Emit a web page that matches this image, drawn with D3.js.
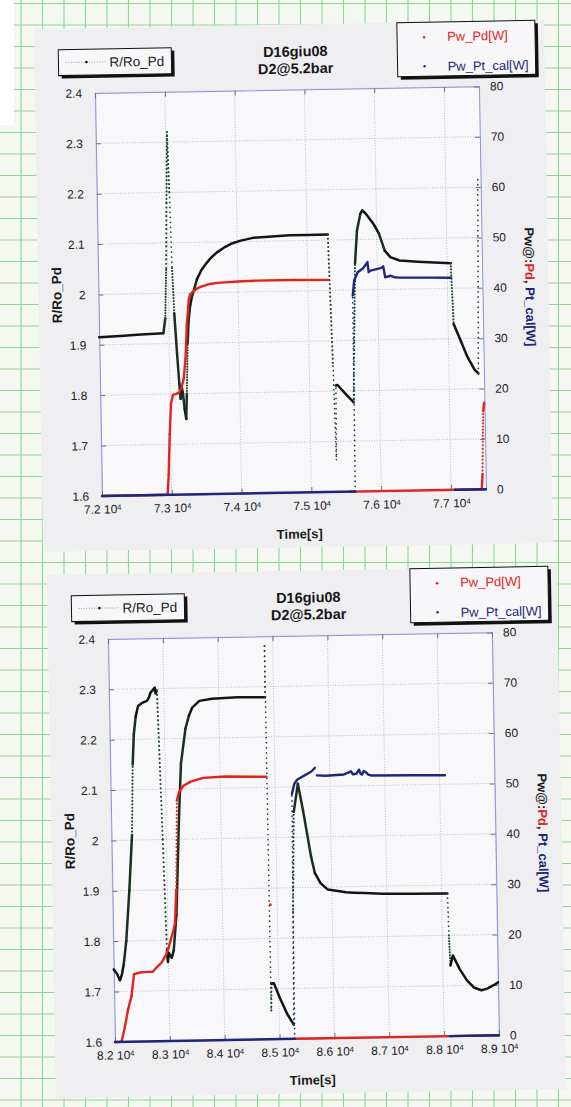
<!DOCTYPE html>
<html>
<head>
<meta charset="utf-8">
<script src="https://cdn.jsdelivr.net/npm/d3@7"></script>
<style>
  html, body { margin: 0; padding: 0; background: #f4f8f1; }
  svg { display: block; }
  text { font-family: "Liberation Sans", Arial, Helvetica, sans-serif; }
</style>
</head>
<body>
<svg id="sheet" width="571" height="1107"></svg>
<script>
// ---------------- data ----------------
const titleLines = ["D16giu08", "D2@5.2bar"];
const ratioTicks = [1.6, 1.7, 1.8, 1.9, 2.0, 2.1, 2.2, 2.3, 2.4];
const powerTicks = [0, 10, 20, 30, 40, 50, 60, 70, 80];

// first run (upper panel)
const runATimeTicks = [72000, 73000, 74000, 75000, 76000, 77000];
const runATimeDomain = [72000, 77500];
const runARatio = [
  [72000,1.915],[72300,1.917],[72600,1.919],[72920,1.921],
  [72950,1.95],[72975,2.05],[72995,2.18],[73020,2.32],
  [73040,2.2],[73060,2.05],[73080,1.96],[73110,1.88],[73135,1.82],[73150,1.79],
  [73165,1.815],[73185,1.80],[73205,1.77],[73225,1.75],[73240,1.80],
  [73265,1.90],[73283,1.944],[73310,1.975],[73335,1.991],[73414,2.027],[73480,2.045],
  [73545,2.057],[73620,2.069],[73702,2.079],[73800,2.088],[73911,2.096],[74050,2.102],
  [74225,2.107],[74500,2.109],[74749,2.111],[75000,2.111],[75298,2.111],
  [75340,1.85],[75366,1.664],[75377,1.811],[75400,1.812],[75500,1.796],[75628,1.777],
  [75650,1.9],[75681,2.052],[75717,2.118],[75770,2.151],[75796,2.158],[75848,2.151],
  [75953,2.131],[76031,2.111],[76110,2.077],[76188,2.064],[76319,2.057],[76581,2.054],
  [77052,2.05],[77078,1.929],[77157,1.902],[77262,1.865],[77366,1.838],[77420,1.83],
  [77460,2.22]
];
const runAPd = [
  [72000,0],[72940,0],[72960,4],[72985,12],[73010,18],[73040,19.8],[73090,20],
  [73130,20.3],[73160,21],[73200,23],[73230,27],[73257,33.7],[73290,38.5],[73309,39.7],
  [73361,40.3],[73420,40.9],[73492,41.3],[73600,41.7],[73702,41.9],[74000,42.1],
  [74225,42.2],[74800,42.2],[75298,42.1],[75300,null],
  [75560,0],[77440,0],[77455,3],[77468,10],[77480,15.5],[77495,17.2]
];
const runAPtCal = [
  [72000,0],[75628,0],[75640,38.9],[75665,41.9],[75717,43.5],[75796,44.3],[75859,45.5],
  [75874,43.5],[75901,43.8],[76058,44.3],[76084,44.6],[76110,42.4],[76188,42.7],
  [76241,42.4],[76319,42.3],[76700,42.2],[77052,42.1],[77056,null],
  [77056,0],[77500,0]
];

// second run (lower panel)
const runBTimeTicks = [82000, 83000, 84000, 85000, 86000, 87000, 88000, 89000];
const runBTimeDomain = [82000, 89000];
const runBRatio = [
  [82000,1.744],[82060,1.735],[82110,1.722],[82150,1.735],[82184,1.754],[82237,1.80],
  [82309,1.90],[82375,2.01],[82410,2.15],[82440,2.21],[82480,2.245],[82526,2.266],
  [82600,2.272],[82691,2.276],[82730,2.283],[82757,2.292],[82800,2.297],[82836,2.302],
  [82850,2.29],[82875,2.296],[82934,2.0],[82975,1.78],[82990,1.757],[83010,1.775],
  [83030,1.77],[83060,1.765],[83100,1.78],[83160,1.85],[83200,1.95],[83240,2.05],
  [83290,2.15],[83382,2.219],[83450,2.245],[83513,2.261],[83645,2.274],[83875,2.278],
  [84336,2.28],[84845,2.279],[84850,2.381],[84858,1.657],[84870,1.71],[84914,1.711],
  [85013,1.683],[85145,1.65],[85263,1.628],[85285,1.85],[85330,2.05],[85414,2.106],
  [85500,2.053],[85566,2.007],[85632,1.961],[85697,1.928],[85796,1.908],[85928,1.895],
  [86257,1.889],[86400,1.888],[86600,1.887],[86914,1.885],[87500,1.884],[88105,1.883],
  [88120,1.8],[88138,1.74],[88184,1.76],[88303,1.733],[88434,1.71],[88566,1.695],
  [88697,1.69],[88800,1.693],[88927,1.7],[89000,1.705]
];
const runBPd = [
  [82000,0],[82118,0],[82184,2.9],[82250,6.5],[82316,9.1],[82368,13.4],[82480,13.7],
  [82600,13.8],[82711,13.8],[82776,14.6],[82875,15.6],[82961,17.2],[83007,18.5],
  [83060,20.5],[83099,21.9],[83132,23.4],[83164,30],[83184,39.1],[83204,47.7],
  [83243,49.3],[83329,50.6],[83461,51.4],[83691,52.1],[84086,52.3],[84842,52.1],
  [84848,null],[84875,26.7],[84880,null],
  [85270,0],[88105,0],[89000,0]
];
const runBPtCal = [
  [82000,0],[85276,0],[85290,30],[85303,48.6],[85349,50.6],[85401,51.4],[85533,52.2],
  [85664,53],[85730,53.7],[85745,null],[85763,52.2],[85928,52.1],[86257,52.3],
  [86388,52.9],[86420,52.3],[86487,52.4],[86533,53.2],[86560,52.4],[86586,52.2],
  [86620,52.9],[86664,52.6],[86700,52.2],[86750,52],[87500,51.9],[88099,51.8],
  [88103,null],[88103,0],[89000,0]
];

// ---------------- drawing ----------------
const svg = d3.select("#sheet");
const W = 571, H = 1107;
const PW = 384, PH = 403;          // plot box
const TILT = -1;                    // the sheets sit slightly askew

const COL = { ratio: "#121612", ratioSteep: "#1b2e1f", ratioDots: "#24452b",
              pd: "#e4221c", pt: "#1c2879",
              frame: "#8d92d4", grid: "#a9adc4", paper: "#8fd497" };

// graph paper
const paper = svg.append("g");
paper.append("rect").attr("width", W).attr("height", H).attr("fill", "#f4f8f1");
d3.range(21, W, 21.5).forEach(x => paper.append("line")
  .attr("x1", x).attr("x2", x).attr("y1", 0).attr("y2", H)
  .attr("stroke", COL.paper).attr("stroke-width", 1.1));
d3.range(3.5, H, 21.5).forEach(y => paper.append("line")
  .attr("x1", 0).attr("x2", W).attr("y1", y).attr("y2", y)
  .attr("stroke", COL.paper).attr("stroke-width", 1.1));
paper.append("rect").attr("x", 0).attr("y", 0).attr("width", 14).attr("height", 125).attr("fill", "#ffffff");

function drawPanel(origin, timeDomain, timeTicks, ratio, pd, pt) {
  const g = svg.append("g")
    .attr("transform", `translate(${origin[0]},${origin[1]}) rotate(${TILT})`);

  // card
  g.append("rect").attr("x", -60).attr("y", -65).attr("width", 510).attr("height", 523)
    .attr("fill", "#efeff2");

  const x = d3.scaleLinear().domain(timeDomain).range([0, PW]);
  const yR = d3.scaleLinear().domain([1.6, 2.4]).range([PH, 0]);
  const yP = d3.scaleLinear().domain([0, 80]).range([PH, 0]);

  // plot background
  g.append("rect").attr("width", PW).attr("height", PH).attr("fill", "#f8f8fb");

  // grid
  const grid = g.append("g").attr("stroke", COL.grid).attr("stroke-width", 0.8)
    .attr("stroke-dasharray", "1 1.6");
  timeTicks.forEach(t => grid.append("line").attr("x1", x(t)).attr("x2", x(t))
    .attr("y1", 0).attr("y2", PH));
  ratioTicks.forEach(v => grid.append("line").attr("x1", 0).attr("x2", PW)
    .attr("y1", yR(v)).attr("y2", yR(v)));

  // axes with inward ticks
  const fmtR = v => String(+v.toFixed(1));
  const axL = g.append("g").call(d3.axisLeft(yR).tickValues(ratioTicks).tickSize(-5).tickPadding(13).tickFormat(fmtR));
  const axR = g.append("g").attr("transform", `translate(${PW},0)`)
    .call(d3.axisRight(yP).tickValues(powerTicks).tickSize(-5).tickPadding(11));
  const axB = g.append("g").attr("transform", `translate(0,${PH})`)
    .call(d3.axisBottom(x).tickValues(timeTicks).tickSize(-5).tickPadding(9).tickFormat(() => ""));
  const axT = g.append("g")
    .call(d3.axisTop(x).tickValues(timeTicks).tickSize(-5).tickFormat(() => ""));
  [axL, axR, axB, axT].forEach(a => {
    a.select(".domain").attr("stroke", COL.frame).attr("stroke-width", 1);
    a.selectAll(".tick line").attr("stroke", "#6a6f92");
    a.selectAll(".tick text").attr("fill", "#222").attr("font-size", 12);
  });

  // time labels: mantissa with 10^4
  axB.selectAll(".tick text").each(function (t) {
    const tx = d3.select(this).text(null);
    tx.append("tspan").text((t / 1e4).toFixed(1) + " 10");
    tx.append("tspan").attr("dy", "-0.45em").attr("font-size", 7.5).text("4");
  });

  // series: fast transitions show up as chains of separate samples
  function series(pts, y, color, steepColor, dotColor, width) {
    const layer = g.append("g");
    const runs = [];
    let cur = [];
    pts.forEach(p => {
      if (p[1] == null) { if (cur.length) runs.push(cur); cur = []; }
      else cur.push(p);
    });
    if (cur.length) runs.push(cur);
    const line = d3.line().x(d => x(d[0])).y(d => y(d[1]));
    runs.forEach(run => {
      if (run.length === 1) {
        layer.append("circle").attr("cx", x(run[0][0])).attr("cy", y(run[0][1]))
          .attr("r", 1.4).attr("fill", color);
        return;
      }
      let solid = [run[0]];
      const flush = () => {
        if (solid.length > 1) layer.append("path").attr("d", line(solid))
          .attr("fill", "none").attr("stroke", color).attr("stroke-width", width)
          .attr("stroke-linejoin", "round").attr("stroke-linecap", "round");
      };
      for (let i = 1; i < run.length; i++) {
        const a = run[i - 1], b = run[i];
        const dx = Math.abs(x(b[0]) - x(a[0])), dy = Math.abs(y(b[1]) - y(a[1]));
        const steep = dy / Math.max(dx, 0.05);
        if (dy > 12 && steep > 3) {
          flush();
          const gap = steep * 0.09;
          const seg = layer.append("path").attr("d", line([a, b])).attr("fill", "none")
            .attr("stroke-linecap", "round");
          if (gap < 2.4) seg.attr("stroke", steepColor).attr("stroke-width", width);
          else seg.attr("stroke", dotColor).attr("stroke-width", gap > 4.5 ? 1.7 : 2.1)
                  .attr("stroke-dasharray", `0.1 ${Math.min(gap, 5).toFixed(2)}`);
          solid = [b];
        } else solid.push(b);
      }
      flush();
    });
  }
  series(ratio, yR, COL.ratio, COL.ratioSteep, COL.ratioDots, 2.5);
  series(pd, yP, COL.pd, COL.pd, COL.pd, 2.4);
  series(pt, yP, COL.pt, COL.pt, COL.pt, 2.4);

  // title
  const title = g.append("text").attr("text-anchor", "middle")
    .attr("font-weight", "bold").attr("font-size", 14.5).attr("fill", "#161616");
  title.append("tspan").attr("x", 201).attr("y", -33).text(titleLines[0]);
  title.append("tspan").attr("x", 201).attr("y", -16).text(titleLines[1]);

  // axis titles
  g.append("text").attr("transform", `translate(-37,${PH / 2}) rotate(-90)`)
    .attr("text-anchor", "middle").attr("font-weight", "bold").attr("font-size", 13.5)
    .attr("fill", "#1a1a1a").text("R/Ro_Pd");
  const rt = g.append("text").attr("transform", `translate(${PW + 43},${PH / 2}) rotate(90)`)
    .attr("text-anchor", "middle").attr("font-weight", "bold").attr("font-size", 13);
  rt.append("tspan").attr("fill", "#1a1a1a").text("Pw@:");
  rt.append("tspan").attr("fill", COL.pd).text("Pd");
  rt.append("tspan").attr("fill", "#1a1a1a").text(", ");
  rt.append("tspan").attr("fill", COL.pt).text("Pt_cal[W]");

  g.append("text").attr("x", PW / 2 + 5).attr("y", PH + 46).attr("text-anchor", "middle")
    .attr("font-weight", "bold").attr("font-size", 13).attr("fill", "#1a1a1a").text("Time[s]");

  // legend boxes with drop shadow
  function box(x0, y0, w, h) {
    g.append("rect").attr("x", x0 + 3).attr("y", y0 + 3).attr("width", w).attr("height", h).attr("fill", "#111");
    g.append("rect").attr("x", x0).attr("y", y0).attr("width", w).attr("height", h)
      .attr("fill", "#f7f7f9").attr("stroke", "#111").attr("stroke-width", 1);
  }
  box(-36, -44, 113, 26);
  g.append("line").attr("x1", -29).attr("x2", 11).attr("y1", -31).attr("y2", -31)
    .attr("stroke", "#9a9a9a").attr("stroke-width", 1).attr("stroke-dasharray", "1 1.6");
  g.append("circle").attr("cx", -8).attr("cy", -31).attr("r", 1.3).attr("fill", COL.ratio);
  g.append("text").attr("x", 15).attr("y", -26).attr("font-size", 13.5).attr("fill", "#1a1a1a").text("R/Ro_Pd");

  box(303, -65, 138, 54);
  g.append("circle").attr("cx", 330).attr("cy", -50).attr("r", 1.3).attr("fill", COL.pd);
  g.append("text").attr("x", 353).attr("y", -46).attr("font-size", 13).attr("fill", COL.pd).text("Pw_Pd[W]");
  g.append("circle").attr("cx", 330).attr("cy", -21).attr("r", 1.3).attr("fill", COL.pt);
  g.append("text").attr("x", 353).attr("y", -16).attr("font-size", 13).attr("fill", COL.pt).text("Pw_Pt_cal[W]");
}

drawPanel([95, 93], runATimeDomain, runATimeTicks, runARatio, runAPd, runAPtCal);
drawPanel([108, 639], runBTimeDomain, runBTimeTicks, runBRatio, runBPd, runBPtCal);
</script>
</body>
</html>
